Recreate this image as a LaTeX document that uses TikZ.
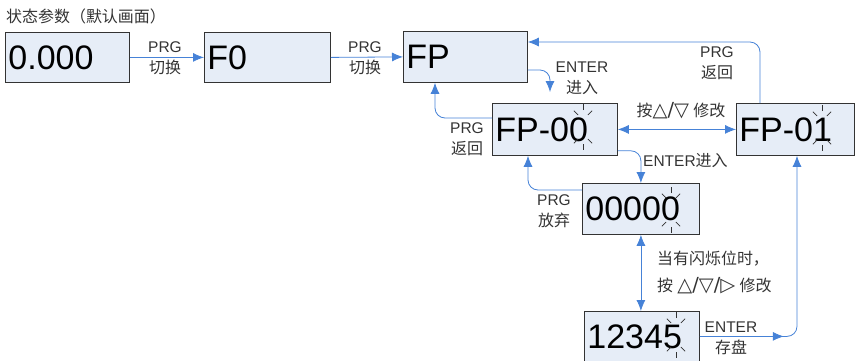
\documentclass[tikz,border=0pt]{standalone}
\usepackage{fontspec}
\setmainfont{Liberation Sans}
\newfontfamily\cjk[Scale=1.03]{Noto Sans CJK SC}
\newfontfamily\symf[Scale=1.25]{DejaVu Sans}
\usetikzlibrary{arrows.meta,decorations.markings}
\definecolor{lcdfill}{RGB}{230,237,247}
\definecolor{flowblue}{RGB}{70,130,215}

\begin{document}
\begin{tikzpicture}[x=1pt,y=-1pt,>={Latex[length=11pt,width=9pt]}]
	\tikzset{lcd/.style={draw=black!80,fill=lcdfill,line width=0.8pt,anchor=north west,
			inner xsep=3pt,inner ysep=0pt,align=left,font=\fontsize{34}{36}\selectfont},
		flow/.style={draw=flowblue,line width=0.8pt,rounded corners=10pt},
		lab/.style={font=\fontsize{15.5}{21}\selectfont,text=black!80,align=center,inner sep=0pt},
		blink/.pic={\foreach \a in {45,90,135,225,270,315}
			\draw[line width=0.7pt,black!80] ({7*cos(\a)},{17*sin(\a)}) -- ++(\a:6);}}
	\useasboundingbox (0,0) rectangle (855,360);
	% title
	\node[lab,anchor=west,font=\fontsize{15.5}{18}\selectfont] (title) at (6,16) {\cjk 状态参数（默认画面）};
	% display boxes
	\node[lcd,text width=118pt,minimum height=50pt] (b0) at (5,32) {0.000};
	\node[lcd,text width=120pt,minimum height=50pt] (bF0) at (204,32) {F0};
	\node[lcd,text width=118pt,minimum height=51pt] (bFP) at (403,31) {FP};
	\node[lcd,text width=119pt,minimum height=52pt] (bFP00) at (492,103) {FP-00};
	\node[lcd,text width=112pt,minimum height=52pt] (bFP01) at (736,103) {FP-01};
	\node[lcd,text width=111pt,minimum height=51pt] (b0000) at (582,183) {00000};
	\node[lcd,text width=109pt,minimum height=50pt] (b12345) at (584,311) {12345};
	% blinking digits
	\pic at (583,127) {blink};
	\pic at (822,128) {blink};
	\pic at (671,210) {blink};
	\pic at (676,335) {blink};
	% connectors
	\coordinate (fpin) at (550,92);
	\draw[flow,->] (b0.east) -- (bF0.west);
	\draw[flow,->] (bF0.east) -- (bFP.west);
	\draw[flow,->] ([xshift=24pt]bFP01.north west) |- ([yshift=-11pt]bFP.north east);
	\draw[flow,->] ([yshift=-39pt]bFP.north east) -| (fpin);
	\draw[flow,->] ([yshift=-15pt]bFP00.north west) -| ([xshift=32pt]bFP.south west);
	\draw[flow,<->] (bFP00.east) -- (bFP01.west);
	\draw[flow,->] ([yshift=5pt]bFP00.south east) -| (b0000.north);
	\draw[flow,->] ([yshift=-7pt]b0000.north west) -| ([xshift=36pt]bFP00.south west);
	\draw[flow,<->] (b0000.south) -- (b0000.south |- b12345.north);
	\draw[flow,->,postaction={decorate},decoration={markings,mark=at position 84pt with {\arrow{>}}}]
		(b12345.east) -| ([xshift=61pt]bFP01.south west);
	% labels
	\node[lab] (l1) at (165,58) {PRG\\{\cjk 切换}};
	\node[lab] (l2) at (365,58) {PRG\\{\cjk 切换}};
	\node[lab] (l3) at (717,63) {PRG\\{\cjk 返回}};
	\node[lab] (l4) at (582,78) {ENTER\\{\cjk 进入}};
	\node[lab] (l5) at (467,139) {PRG\\{\cjk 返回}};
	\node[lab] (l6) at (681,111) {{\cjk 按}{\symf △/▽} {\cjk 修改}};
	\node[lab,anchor=west] (l7) at (643,161) {ENTER{\cjk 进入}};
	\node[lab] (l8) at (554,211) {PRG\\{\cjk 放弃}};
	\node[lab,anchor=west,align=left,font=\fontsize{15.5}{27}\selectfont] (l9) at (657,272)
		{{\cjk 当有闪烁位时，}\\{\cjk 按} {\symf △/▽/▷} {\cjk 修改}};
	\node[lab] (l10) at (731,338) {ENTER\\{\cjk 存盘}};
\end{tikzpicture}
\end{document}
